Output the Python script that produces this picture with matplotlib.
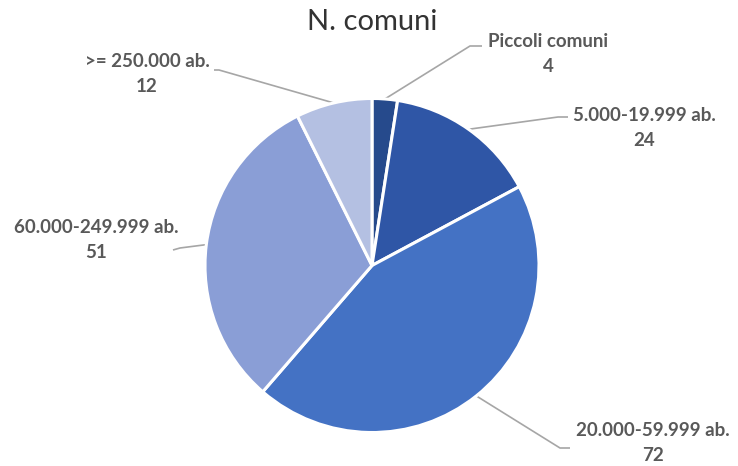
import numpy as np
import matplotlib
matplotlib.use("Agg")
import matplotlib.pyplot as plt

categories = ["Piccoli comuni", "5.000-19.999 ab.", "20.000-59.999 ab.",
              "60.000-249.999 ab.", ">= 250.000 ab."]
values = [4, 24, 72, 51, 12]
colors = ["#264A8C", "#2F56A6", "#4472C4", "#8A9ED6", "#B4C0E2"]
title = "N. comuni"

W, H = 738, 466
fig = plt.figure(figsize=(W / 100, H / 100), dpi=100)
ax = fig.add_axes([0, 0, 1, 1])

cx, cy, R = 372, H - 265.5, 167
wedges, _ = ax.pie(values, colors=colors, startangle=90, counterclock=False,
                   center=(cx, cy), radius=R, frame=True,
                   wedgeprops=dict(edgecolor="white", linewidth=2.2))
ax.set_xlim(0, W)
ax.set_ylim(0, H)
ax.set_aspect("equal")
ax.axis("off")

fig.text(372 / W, 1 - 22 / H, title, ha="center", va="center",
         fontsize=21, color="#333333", family=["Lato", "DejaVu Sans"])

# label text centres (pixel coords, y from top) and leader elbow/end points
label_pos = [(548, 54), (644, 128), (653, 443), (96, 240), (147, 74)]
elbows = [(470, 46), (558, 117), (560, 448), (180, 248), (219, 70)]
ends = [(482, 46), (568, 117), (570, 448), (173, 250), (214, 70)]

for w, lab, v, (tx, ty), (ex, ey), (fx, fy) in zip(wedges, categories, values,
                                                   label_pos, elbows, ends):
    ang = np.deg2rad((w.theta1 + w.theta2) / 2)
    sx = cx + R * np.cos(ang)
    sy = cy + R * np.sin(ang)
    ax.plot([sx, ex, fx], [sy, H - ey, H - fy], color="#A6A6A6", lw=1.2,
            solid_capstyle="butt", zorder=0)
    ax.text(tx, H - ty, f"{lab}\n{v}", ha="center", va="center",
            fontsize=13.5, fontweight="bold", color="#595959",
            linespacing=1.55, family=["Lato", "DejaVu Sans"])

fig.savefig("out.png", dpi=100, facecolor="white")
